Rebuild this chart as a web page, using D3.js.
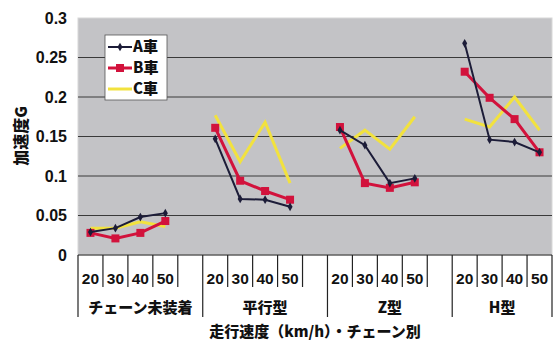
<!DOCTYPE html>
<html>
<head>
<meta charset="utf-8" />
<script src="https://d3js.org/d3.v7.min.js"></script>
<style>
  body { margin: 0; background: #fff; }
  text { font-family: "Liberation Sans", Arial, "Noto Sans CJK JP", sans-serif; font-weight: bold; fill: #111; }
  .jp { font-family: "Noto Sans CJK JP", sans-serif; font-weight: 900; }
</style>
</head>
<body>
<svg id="chart" width="556" height="342"></svg>
<script>
// data
var groups = ["チェーン未装着", "平行型", "Z型", "H型"];
var speeds = ["20", "30", "40", "50"];
var seriesNames = ["A車", "B車", "C車"];
var carA = [0.029, 0.034, 0.048, 0.053, 0.147, 0.071, 0.070, 0.061, 0.158, 0.139, 0.091, 0.097, 0.268, 0.146, 0.143, 0.130];
var carB = [0.028, 0.021, 0.028, 0.043, 0.161, 0.094, 0.081, 0.070, 0.162, 0.091, 0.085, 0.092, 0.232, 0.199, 0.172, 0.130];
var carC = [0.034, 0.034, 0.042, 0.036, 0.177, 0.118, 0.168, 0.091, 0.135, 0.158, 0.134, 0.175, 0.172, 0.162, 0.200, 0.158];
var yTicks = [0, 0.05, 0.1, 0.15, 0.2, 0.25, 0.3];

var colors = ["#1c1c38", "#d2123c", "#f2e23e"];
var allSeries = [carA, carB, carC];

var svg = d3.select("#chart");
var plotLeft = 78, plotRight = 552, plotTop = 18, plotBottom = 255;

// category slots: 4 speeds per group plus a blank slot between groups
var slots = [];
groups.forEach(function (g, gi) {
    speeds.forEach(function (s) { slots.push(gi + "-" + s); });
    if (gi < groups.length - 1) slots.push(gi + "-gap");
});

var x = d3.scaleBand().domain(slots).range([plotLeft, plotRight]);
var y = d3.scaleLinear().domain([0, 0.3]).range([plotBottom, plotTop]);

// plot area
svg.append("rect")
    .attr("x", plotLeft).attr("y", plotTop)
    .attr("width", plotRight - plotLeft).attr("height", plotBottom - plotTop)
    .attr("fill", "#c3c3c6")
    .attr("stroke", "#d8d8d8");

// grid lines
svg.selectAll(".grid")
    .data(yTicks.filter(function (d) { return d > 0 && d < 0.3; }))
    .enter().append("line")
    .attr("x1", plotLeft).attr("x2", plotRight)
    .attr("y1", function (d) { return y(d); })
    .attr("y2", function (d) { return y(d); })
    .attr("stroke", "#3a3a3a").attr("stroke-width", 1);

// y axis labels
var yAxis = d3.axisLeft(y).tickValues(yTicks).tickSize(0).tickPadding(11)
    .tickFormat(function (d) { return String(+d.toFixed(2)); });
var gy = svg.append("g").attr("transform", "translate(" + plotLeft + ",0)").call(yAxis);
gy.attr("font-family", null).attr("font-size", null);
gy.select(".domain").remove();
gy.selectAll("text").style("font-size", "16px").attr("fill", "#111");

// x axis line
svg.append("line")
    .attr("x1", plotLeft).attr("x2", plotRight)
    .attr("y1", plotBottom).attr("y2", plotBottom)
    .attr("stroke", "#222").attr("stroke-width", 1.2);

// tick marks between categories, long ones at group borders
var bounds = slots.map(function (s) { return x(s); }).concat([plotRight]);
svg.selectAll(".tick-sep")
    .data(bounds)
    .enter().append("line")
    .attr("x1", function (d) { return d; })
    .attr("x2", function (d) { return d; })
    .attr("y1", plotBottom)
    .attr("y2", function (d, i) { return (i % 5 === 0 || i === bounds.length - 1) ? 317 : 287; })
    .attr("stroke", "#222").attr("stroke-width", 1.2);

// speed labels
groups.forEach(function (g, gi) {
    speeds.forEach(function (s) {
        svg.append("text")
            .attr("x", x(gi + "-" + s) + x.bandwidth() / 2)
            .attr("y", 284)
            .attr("text-anchor", "middle")
            .style("font-size", "15.5px")
            .text(s);
    });
    var gx0 = x(gi + "-" + speeds[0]);
    var gx1 = gi < groups.length - 1 ? x(gi + "-gap") + x.bandwidth() : plotRight;
    svg.append("text")
        .attr("class", "jp")
        .attr("x", (gx0 + gx1) / 2)
        .attr("y", 313)
        .attr("text-anchor", "middle")
        .style("font-size", "15px")
        .text(g);
});

// axis titles
svg.append("text")
    .attr("class", "jp")
    .attr("x", 315).attr("y", 337)
    .attr("text-anchor", "middle")
    .style("font-size", "15px")
    .text("走行速度（km/h）・チェーン別");

svg.append("text")
    .attr("class", "jp")
    .attr("transform", "translate(27,136) rotate(-90)")
    .attr("text-anchor", "middle")
    .style("font-size", "16px")
    .text("加速度G");

// series lines, broken between groups
var line = d3.line()
    .x(function (d) { return x(d.key) + x.bandwidth() / 2; })
    .y(function (d) { return y(d.v); });

allSeries.slice().reverse().forEach(function (vals, ri) {
    var si = allSeries.length - 1 - ri;
    groups.forEach(function (g, gi) {
        var pts = speeds.map(function (s, k) {
            return { key: gi + "-" + s, v: vals[gi * speeds.length + k] };
        });
        svg.append("path")
            .datum(pts)
            .attr("d", line)
            .attr("fill", "none")
            .attr("stroke", colors[si])
            .attr("stroke-width", si === 0 ? 2 : 3);

        if (si === 1) {
            svg.selectAll(null).data(pts).enter().append("rect")
                .attr("x", function (d) { return x(d.key) + x.bandwidth() / 2 - 4; })
                .attr("y", function (d) { return y(d.v) - 4; })
                .attr("width", 8).attr("height", 8)
                .attr("fill", colors[si]);
        } else if (si === 0) {
            svg.selectAll(null).data(pts).enter().append("path")
                .attr("transform", function (d) {
                    return "translate(" + (x(d.key) + x.bandwidth() / 2) + "," + y(d.v) + ")";
                })
                .attr("d", d3.symbol().type(d3.symbolDiamond).size(22))
                .attr("fill", colors[si]);
        }
    });
});

// legend
var leg = svg.append("g");
leg.append("rect")
    .attr("x", 105).attr("y", 35).attr("width", 62).attr("height", 65)
    .attr("fill", "#fff").attr("stroke", "#555").attr("stroke-width", 0.8);
seriesNames.forEach(function (name, i) {
    var ly = 47 + i * 21;
    leg.append("line")
        .attr("x1", 108).attr("x2", 132).attr("y1", ly).attr("y2", ly)
        .attr("stroke", colors[i]).attr("stroke-width", i === 0 ? 2 : 3);
    if (i === 0) {
        leg.append("path").attr("transform", "translate(120," + ly + ")")
            .attr("d", d3.symbol().type(d3.symbolDiamond).size(22)).attr("fill", colors[i]);
    } else if (i === 1) {
        leg.append("rect").attr("x", 116).attr("y", ly - 4).attr("width", 8).attr("height", 8)
            .attr("fill", colors[i]);
    }
    leg.append("text")
        .attr("class", "jp")
        .attr("x", 133).attr("y", ly + 5)
        .style("font-size", "15px")
        .text(name);
});
</script>
</body>
</html>
